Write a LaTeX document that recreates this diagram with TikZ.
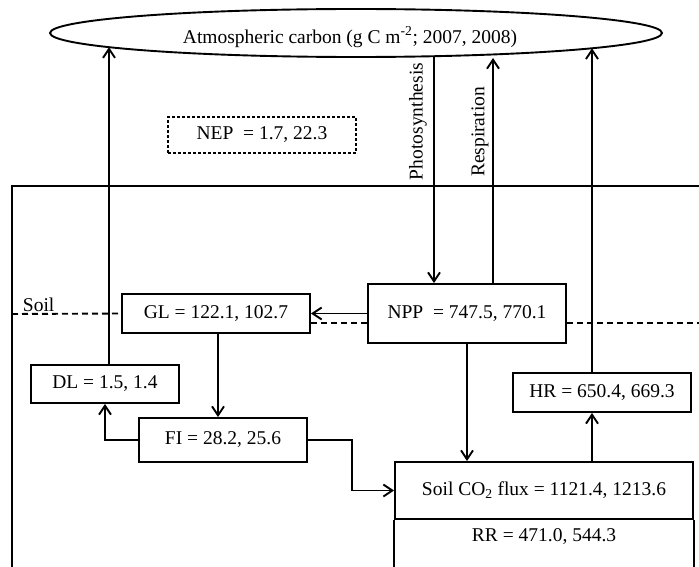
\documentclass[tikz,border=0pt]{standalone}
\usepackage{fontspec}
\setmainfont{Liberation Serif}
\usetikzlibrary{shapes.geometric,arrows.meta,calc}
\newcommand\dfs{\fontsize{19.5}{23}\selectfont}
\begin{document}
\begin{tikzpicture}[x=1pt,y=-1pt,line width=1.9pt,
  box/.style={draw,rectangle,inner sep=0pt,font=\dfs},
  lbl/.style={font=\dfs,inner sep=0pt},
  arr/.style={-{Straight Barb[length=9pt,width=12pt]}},
  soilline/.style={dash pattern=on 6pt off 4pt}]
\useasboundingbox (0,0) rectangle (699,567);
% frame
\draw (699,186) -- (12,186) -- (12,567);
% atmosphere
\node[draw,ellipse,minimum width=612pt,minimum height=48pt,inner sep=0pt] (atm) at (356,33) {};
\node[lbl] (atmtext) at (350,37) {Atmospheric carbon (g C m\textsuperscript{-2}; 2007, 2008)};
\node[box,dash pattern=on 3pt off 2pt,line width=1.6pt,minimum width=188pt,minimum height=36pt] (nep) at (262,135) {NEP\ \ = 1.7, 22.3};
\node[lbl,rotate=90] (photo) at (418,121.5) {Photosynthesis};
\node[lbl,rotate=90] (resp) at (480,132) {Respiration};
% boxes
\node[box,minimum width=188pt,minimum height=39pt] (gl) at (216,313.5) {GL = 122.1, 102.7};
\node[box,minimum width=198pt,minimum height=59pt] (npp) at (467,313.5) {NPP\ \ = 747.5, 770.1};
\node[box,minimum width=148pt,minimum height=38pt] (dl) at (105,384) {DL = 1.5, 1.4};
\node[box,minimum width=168pt,minimum height=44pt] (fi) at (223,440) {FI = 28.2, 25.6};
\node[box,minimum width=178pt,minimum height=39pt] (hr) at (602,392.5) {HR = 650.4, 669.3};
\node[box,minimum width=298pt,minimum height=57pt] (soil) at (544,490.5) {Soil CO\textsubscript{2} flux = 1121.4, 1213.6};
\draw (soil.south west) -- (soil.south west |- 0,572);
\draw (soil.south east) -- (soil.south east |- 0,572);
\node[lbl] (rr) at (544,537) {RR = 471.0, 544.3};
% soil line
\coordinate (sl) at (12,314);
\coordinate (sr) at (699,323);
\node[lbl,anchor=base west] (soillbl) at (22,311) {Soil};
\draw[soilline] (sl) -- (gl.west);
\draw[soilline] ($(gl.east)+(0,9.5)$) -- ($(npp.west)+(0,9.5)$);
\draw[soilline] ($(npp.east)+(0,9.5)$) -- (sr);
% ellipse contact points
\coordinate (e1) at (109,47.2);
\coordinate (e2) at (434,56.2);
\coordinate (e3) at (493,58);
\coordinate (e4) at (592,48.3);
% connectors
\draw[arr] ([xshift=4pt]dl.north) -- (e1);
\draw[arr] (e2) -- (e2 |- npp.north);
\draw[arr] (e3 |- npp.north) -- (e3);
\draw[arr] ([xshift=-10pt]hr.north) -- (e4);
\draw[arr] (npp.west) -- (gl.east);
\draw[arr] ([xshift=2pt]gl.south) -- ([xshift=2pt]gl.south |- fi.north);
\draw[arr] (fi.west) -| (dl.south);
\draw[arr] (fi.east) -- ++(44,0) |- (soil.west);
\draw[arr] (npp.south) -- (npp.south |- soil.north);
\draw[arr] ([xshift=-10pt]hr.south |- soil.north) -- ([xshift=-10pt]hr.south);
\end{tikzpicture}
\end{document}
